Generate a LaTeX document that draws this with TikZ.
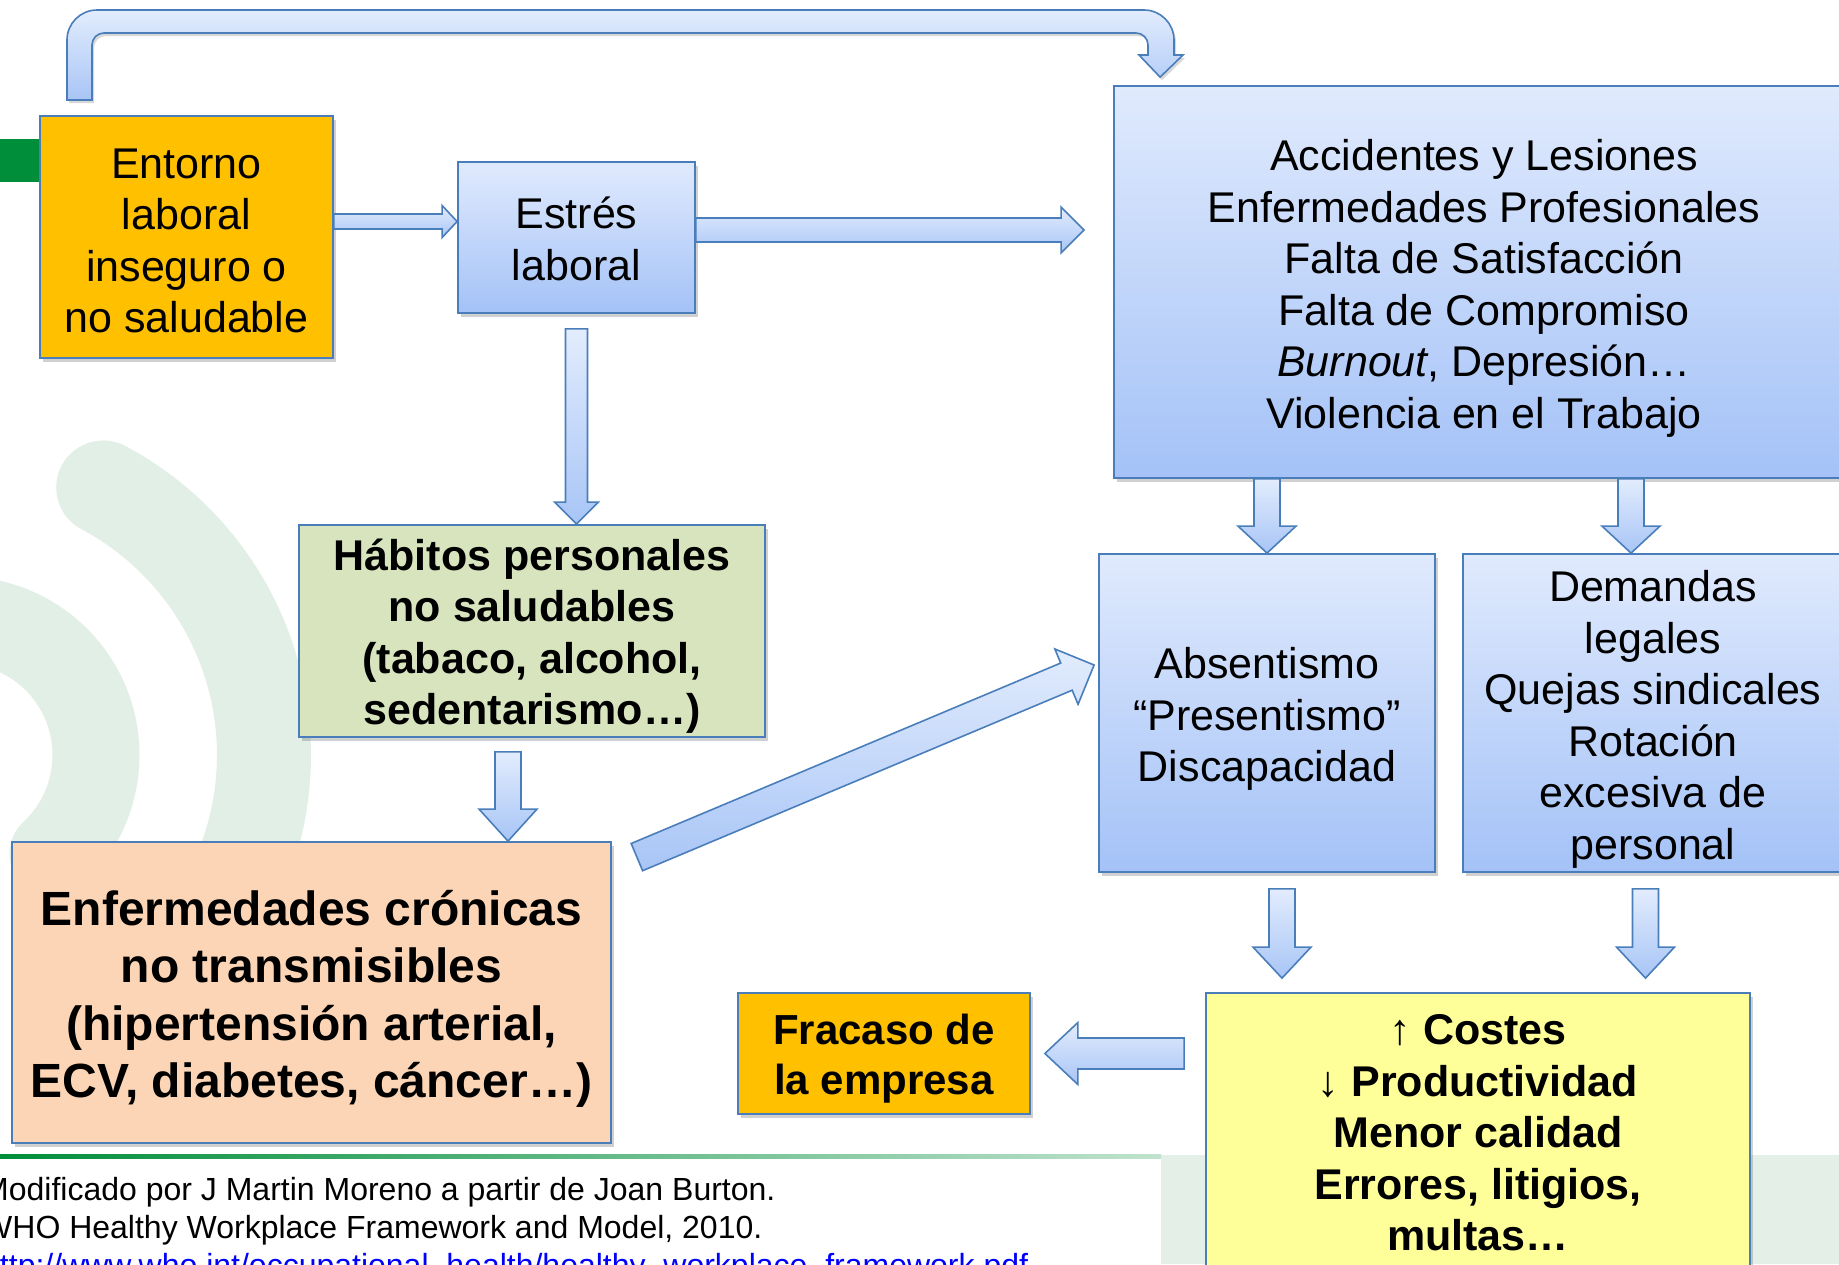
\documentclass[tikz,border=0pt]{standalone}
\usepackage{fontspec}
\setmainfont{Liberation Sans}
\usetikzlibrary{calc,shadows}
\definecolor{bordblue}{RGB}{74,126,187}
\definecolor{btop}{RGB}{224,234,253}
\definecolor{bbot}{RGB}{164,194,247}
\definecolor{atop}{RGB}{226,236,253}
\definecolor{abot}{RGB}{168,197,246}
\definecolor{orangey}{RGB}{255,192,0}
\definecolor{habgreen}{RGB}{215,228,189}
\definecolor{peach}{RGB}{251,213,181}
\definecolor{lemon}{RGB}{255,255,153}
\definecolor{wm}{RGB}{225,239,230}
\definecolor{dkgreen}{RGB}{0,142,58}
\definecolor{footgreen}{RGB}{228,240,231}
\newcommand{\boxtxt}[2]{\raisebox{-#1}[\height][\depth]{\begin{tabular}{@{}c@{}}#2\end{tabular}}}
\begin{document}
\begin{tikzpicture}[x=1pt,y=-1pt,
  box/.style={draw=bordblue, line width=1.8pt, inner sep=0pt, text=black,
    drop shadow={shadow xshift=3pt, shadow yshift=-4pt, opacity=0.3, fill=black!60}},
  bluegrad/.style={top color=btop, bottom color=bbot},
  fnt/.style={font=\fontsize{43}{51.5}\selectfont},
  fntb/.style={font=\fontsize{43}{51.5}\selectfont\bfseries},
  blklook/.style={draw=bordblue, line width=1.6pt, top color=atop, bottom color=abot, line join=miter},
  barrow/.style n args={3}{blklook, to path={
    ($(\tikztostart)!#1!90:(\tikztotarget)$)
    -- ($(\tikztotarget)!#3!(\tikztostart)!#1!90:(\tikztotarget)$)
    -- ($(\tikztotarget)!#3!(\tikztostart)!#2!90:(\tikztotarget)$)
    -- (\tikztotarget)
    -- ($(\tikztotarget)!#3!(\tikztostart)!#2!-90:(\tikztotarget)$)
    -- ($(\tikztotarget)!#3!(\tikztostart)!#1!-90:(\tikztotarget)$)
    -- ($(\tikztostart)!#1!-90:(\tikztotarget)$) -- cycle}}
]
\useasboundingbox (0,0) rectangle (1839,1264);
\clip (0,0) rectangle (1839,1264);
\fill[white] (0,0) rectangle (1839,1264);

% watermark arcs
\draw[wm, line width=94pt, line cap=round] plot[domain=-62:60, samples=90] ({-39+303*cos(\x)},{755+303*sin(\x)});
\draw[wm, line width=87pt, line cap=round] plot[domain=-125:47, samples=90] ({-39+135*cos(\x)},{755+135*sin(\x)});

% footer
\fill[footgreen] (1161,1155) rectangle (1839,1264);
\shade[left color=dkgreen, right color=dkgreen!25] (0,1154) rectangle (1161,1158);

% green bar behind first box
\fill[dkgreen] (0,139) rectangle (40,182);

% boxes
\node[box, fill=orangey, fnt, minimum width=293pt, minimum height=242pt] (entorno) at (186.5,237)
  {\boxtxt{8pt}{Entorno\\laboral\\inseguro o\\no saludable}};
\node[box, bluegrad, fnt, minimum width=237pt, minimum height=151pt] (estres) at (576.5,237.5)
  {\boxtxt{6.5pt}{Estrés\\laboral}};
\node[box, bluegrad, fnt, minimum width=740pt, minimum height=392pt] (big) at (1484,282)
  {\boxtxt{7pt}{Accidentes y Lesiones\\Enfermedades Profesionales\\Falta de Satisfacción\\Falta de Compromiso\\\textit{Burnout}, Depresión…\\Violencia en el Trabajo}};
\node[box, fill=habgreen, fntb, minimum width=466pt, minimum height=212pt] (habitos) at (532,631)
  {\boxtxt{6pt}{Hábitos personales\\no saludables\\(tabaco, alcohol,\\sedentarismo…)}};
\node[box, fill=peach, font=\fontsize{48}{57.5}\selectfont\bfseries, minimum width=599pt, minimum height=301pt] (enferm) at (311.5,992.5)
  {\boxtxt{7.5pt}{Enfermedades crónicas\\no transmisibles\\(hipertensión arterial,\\ECV, diabetes, cáncer…)}};
\node[box, bluegrad, fnt, minimum width=336pt, minimum height=318pt] (absent) at (1267,713)
  {\boxtxt{7pt}{Absentismo\\“Presentismo”\\Discapacidad}};
\node[box, bluegrad, fnt, minimum width=380pt, minimum height=318pt] (demandas) at (1653,713)
  {\boxtxt{7pt}{Demandas\\legales\\Quejas sindicales\\Rotación\\excesiva de\\personal}};
\node[box, fill=orangey, font=\fontsize{42}{50.4}\selectfont\bfseries, minimum width=292pt, minimum height=121pt] (fracaso) at (884,1053.5)
  {\boxtxt{6pt}{Fracaso de\\la empresa}};
\node[box, fill=lemon, fntb, minimum width=544pt, minimum height=277pt] (costes) at (1478,1131.5)
  {\boxtxt{6pt}{{\mdseries ↑} Costes\\{\mdseries ↓} Productividad\\Menor calidad\\Errores, litigios,\\multas…}};

% block arrows
\draw[blklook, drop shadow={shadow xshift=2pt, shadow yshift=-3pt, opacity=0.25, fill=black!60}]
  (67,100) [rounded corners=30pt] -- (67,10) -- (1174,10) [sharp corners] -- (1174,55) -- (1183,55)
  -- ($(big.north west)+(47,-8)$) -- (1139,55) -- (1148,55) [rounded corners=12pt] -- (1148,33) -- (92,33)
  [sharp corners] -- (92,100) -- cycle;

\draw[barrow={7.5pt}{16pt}{15pt}] ($(entorno.east)+(0,-15.5)$) to ($(estres.west)+(0,-16)$);
\draw[barrow={12pt}{23pt}{23pt}] ($(estres.east)+(0,-7.5)$) to ($(big.west |- estres.east)+(-29,-7.5)$);
\draw[barrow={11pt}{22pt}{22pt}] ($(estres.south)+(0,15)$) to ($(habitos.north -| estres.south)$);
\draw[barrow={13pt}{29pt}{32pt}] ($(habitos.south)+(-24,14)$) to ($(habitos.south |- enferm.north)+(-24,0)$);
\draw[barrow={14.75pt}{30pt}{30pt}] ($(enferm.north east)+(25,16)$) to ($(absent.west)+(-4,-48)$);
\draw[barrow={13pt}{29pt}{27pt}] ($(big.south -| absent.north)$) to ($(absent.north)$);
\draw[barrow={13pt}{29pt}{27pt}] ($(big.south -| demandas.north)+(-22,0)$) to ($(demandas.north)+(-22,0)$);
\draw[barrow={13pt}{29pt}{31pt}] ($(absent.south)+(15,16)$) to ($(absent.south |- costes.north)+(15,-14)$);
\draw[barrow={13pt}{29pt}{31pt}] ($(demandas.south)+(-7.5,16)$) to ($(demandas.south |- costes.north)+(-7.5,-14)$);
\draw[barrow={15.5pt}{31pt}{33pt}] ($(costes.west |- fracaso.east)+(-21,0)$) to ($(fracaso.east)+(14,0)$);

% citation
\node[anchor=base west, inner sep=0pt, font=\fontsize{32}{37.5}\selectfont] (cite1) at (-18,1200)
  {Modificado por J Martin Moreno a partir de Joan Burton.};
\node[anchor=base west, inner sep=0pt, font=\fontsize{32}{37.5}\selectfont] (cite2) at (-18,1238)
  {WHO Healthy Workplace Framework and Model, 2010.};
\node[anchor=base west, inner sep=0pt, font=\fontsize{32}{37.5}\selectfont, text=blue] (cite3) at (-18,1276)
  {http://www.who.int/occupational\_health/healthy\_workplace\_framework.pdf};
\end{tikzpicture}
\end{document}
